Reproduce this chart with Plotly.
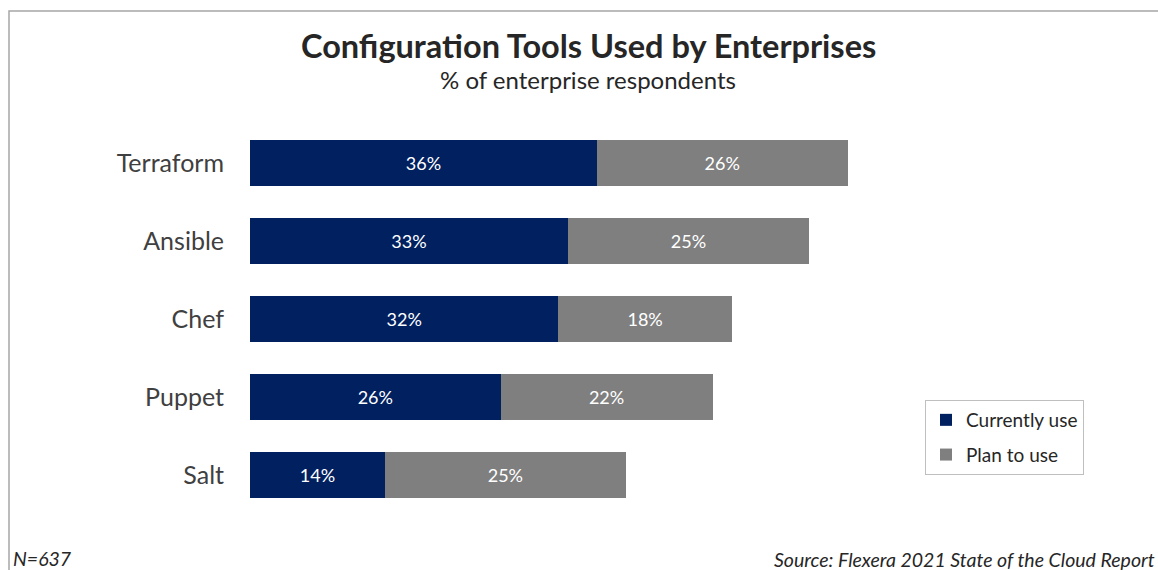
import plotly.graph_objects as go

tools = ["Terraform", "Ansible", "Chef", "Puppet", "Salt"]
currently_use = [36, 33, 32, 26, 14]
plan_to_use = [26, 25, 18, 22, 25]

NAVY = "#002060"
GREY = "#7f7f7f"
FONT = "Lato, 'Open Sans', sans-serif"


def px_x(x):
    # page pixel -> paper x (plot area spans page x 250..1021)
    return (x - 250) / 771


def px_y(y):
    # page pixel -> paper y (plot area spans page y 124..514)
    return (514 - y) / 390


fig = go.Figure()
fig.add_trace(go.Bar(
    y=tools, x=currently_use, orientation="h", name="Currently use",
    legendgroup="cur",
    marker=dict(color=NAVY, line=dict(width=0)),
    text=[f"{v}%" for v in currently_use], textposition="inside",
    insidetextanchor="middle", textfont=dict(color="white", size=18, family=FONT),
    hoverinfo="skip",
))
fig.add_trace(go.Bar(
    y=tools, x=plan_to_use, orientation="h", name="Plan to use",
    legendgroup="plan",
    marker=dict(color=GREY, line=dict(width=0)),
    text=[f"{v}%" for v in plan_to_use], textposition="inside",
    insidetextanchor="middle", textfont=dict(color="white", size=18, family=FONT),
    hoverinfo="skip",
))

# frame around the whole chart (cropped at the right and bottom)
fig.add_shape(type="rect", xref="paper", yref="paper",
              x0=px_x(9), x1=px_x(1200), y0=px_y(620), y1=px_y(11),
              line=dict(color="#a6a6a6", width=1.5), fillcolor="rgba(0,0,0,0)",
              layer="below")

fig.add_annotation(text="<b>Configuration Tools Used by Enterprises</b>",
                   xref="paper", yref="paper", x=px_x(588), y=px_y(45),
                   xanchor="center", yanchor="middle", showarrow=False,
                   font=dict(size=32.5, color="#262626", family=FONT))
fig.add_annotation(text="% of enterprise respondents",
                   xref="paper", yref="paper", x=px_x(588), y=px_y(80),
                   xanchor="center", yanchor="middle", showarrow=False,
                   font=dict(size=24, color="#262626", family=FONT))
fig.add_annotation(text="<i>N=637</i>",
                   xref="paper", yref="paper", x=px_x(11), y=px_y(558),
                   xanchor="left", yanchor="middle", showarrow=False,
                   font=dict(size=19.5, color="#262626", family=FONT))
fig.add_annotation(text="<i>Source: Flexera 2021 State of the Cloud Report</i>",
                   xref="paper", yref="paper", x=px_x(1157), y=px_y(559),
                   xanchor="right", yanchor="middle", showarrow=False,
                   font=dict(size=19.5, color="#262626", family=FONT))

fig.update_layout(
    width=1158, height=570,
    margin=dict(l=250, r=137, t=124, b=56, pad=0),
    paper_bgcolor="white", plot_bgcolor="white",
    barmode="stack", bargap=0.42,
    font=dict(family=FONT, color="#404040"),
    showlegend=True,
    legend=dict(
        x=px_x(925), y=px_y(400), xanchor="left", yanchor="top",
        traceorder="grouped", bordercolor="#bfbfbf", borderwidth=1,
        bgcolor="white", font=dict(size=19, color="#262626", family=FONT),
        itemwidth=30, tracegroupgap=7,
    ),
    xaxis=dict(range=[0, 80], visible=False, fixedrange=True),
    yaxis=dict(autorange="reversed", showgrid=False, showline=False, ticks="",
               ticklabelstandoff=25, fixedrange=True,
               tickfont=dict(size=25, color="#404040", family=FONT)),
)

fig.write_html(
    "out.html",
    config={"displayModeBar": False},
    post_script="document.body.style.margin='0';document.body.style.overflow='hidden';",
)
